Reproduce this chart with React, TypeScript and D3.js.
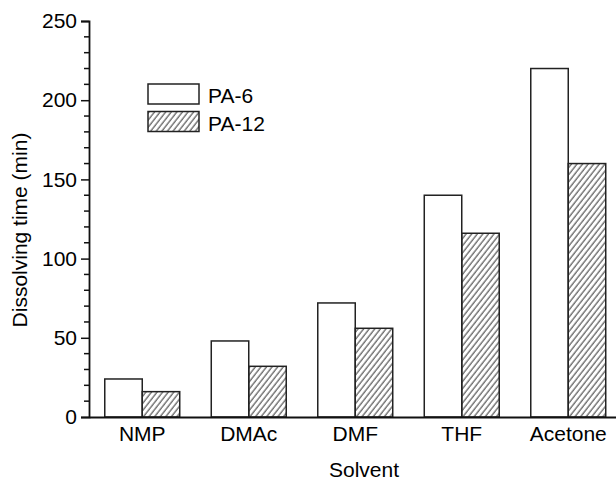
import { useRef, useEffect } from 'react';
import * as d3 from 'd3';

const solvents = ['NMP', 'DMAc', 'DMF', 'THF', 'Acetone'];
const seriesNames = ['PA-6', 'PA-12'];
const pa6 = [24, 48, 72, 140, 220];
const pa12 = [16, 32, 56, 116, 160];
const yTicks = [0, 50, 100, 150, 200, 250];

const App = () => {
  const svgRef = useRef<SVGSVGElement>(null);

  useEffect(() => {
    const width = 616;
    const height = 481;
    const font = 'Arial, "Liberation Sans", sans-serif';

    const svg = d3.select(svgRef.current);
    svg.selectAll('*').remove();
    svg.attr('viewBox', `0 0 ${width} ${height}`);

    // hatch fill for PA-12
    svg.append('defs')
      .append('pattern')
      .attr('id', 'hatch')
      .attr('patternUnits', 'userSpaceOnUse')
      .attr('width', 4.4)
      .attr('height', 10)
      .attr('patternTransform', 'rotate(38)')
      .append('line')
      .attr('x1', 1).attr('y1', 0)
      .attr('x2', 1).attr('y2', 10)
      .attr('stroke', '#333')
      .attr('stroke-width', 1);

    const x = d3.scaleBand()
      .domain(solvents)
      .range([89, 621.5])
      .paddingInner(0.296)
      .paddingOuter(0.148);

    const xs = d3.scaleBand()
      .domain(seriesNames)
      .range([0, x.bandwidth()]);

    const y = d3.scaleLinear()
      .domain([0, 250])
      .range([417, 21]);

    const data = solvents.map((s, i) => ({ solvent: s, values: [pa6[i], pa12[i]] }));

    const groups = svg.selectAll('.grp')
      .data(data)
      .enter()
      .append('g')
      .attr('transform', d => `translate(${x(d.solvent)},0)`);

    groups.selectAll('rect')
      .data(d => d.values.map((v, j) => ({ key: seriesNames[j], value: v })))
      .enter()
      .append('rect')
      .attr('x', d => xs(d.key)!)
      .attr('y', d => y(d.value))
      .attr('width', xs.bandwidth())
      .attr('height', d => y(0) - y(d.value))
      .attr('fill', d => d.key === 'PA-6' ? '#fff' : 'url(#hatch)')
      .attr('stroke', '#222')
      .attr('stroke-width', 1.5);

    // y axis
    const yAxis = svg.append('g')
      .attr('transform', 'translate(89,0)')
      .call(d3.axisLeft(y).tickValues(yTicks).tickSize(8).tickPadding(4));
    yAxis.select('.domain').attr('stroke', '#111').attr('stroke-width', 1.8);
    yAxis.selectAll('.tick line').attr('stroke', '#111').attr('stroke-width', 1.5);
    yAxis.selectAll('text')
      .attr('fill', '#000')
      .style('font-family', font)
      .style('font-size', '21px');

    const minor = d3.range(10, 250, 10).filter(v => v % 50 !== 0);
    svg.append('g')
      .selectAll('line')
      .data(minor)
      .enter()
      .append('line')
      .attr('x1', 84).attr('x2', 89)
      .attr('y1', d => y(d)).attr('y2', d => y(d))
      .attr('stroke', '#111')
      .attr('stroke-width', 1.5);

    // x axis
    const xAxis = svg.append('g')
      .attr('transform', `translate(0,${y(0)})`)
      .call(d3.axisBottom(x).tickSize(0).tickPadding(9));
    xAxis.select('.domain').attr('stroke', '#111').attr('stroke-width', 1.8);
    xAxis.selectAll('text')
      .attr('fill', '#000')
      .style('font-family', font)
      .style('font-size', '21px');

    svg.append('text')
      .attr('x', 364)
      .attr('y', 477)
      .attr('text-anchor', 'middle')
      .style('font-family', font)
      .style('font-size', '21px')
      .text('Solvent');

    svg.append('text')
      .attr('transform', 'translate(27,230) rotate(-90)')
      .attr('text-anchor', 'middle')
      .style('font-family', font)
      .style('font-size', '21px')
      .text('Dissolving time (min)');

    // legend
    const legend = svg.append('g').attr('transform', 'translate(148,84)');
    const rows = legend.selectAll('g')
      .data(seriesNames)
      .enter()
      .append('g')
      .attr('transform', (d, i) => `translate(0,${i * 27.5})`);
    rows.append('rect')
      .attr('width', 51)
      .attr('height', 20)
      .attr('fill', d => d === 'PA-6' ? '#fff' : 'url(#hatch)')
      .attr('stroke', '#222')
      .attr('stroke-width', 1.5);
    rows.append('text')
      .attr('x', 60)
      .attr('y', 19)
      .style('font-family', font)
      .style('font-size', '21px')
      .text(d => d);
  }, []);

  return (
    <svg
      ref={svgRef}
      width={616}
      height={481}
      style={{ position: 'absolute', left: 0, top: 0, background: '#fff' }}
    />
  );
};

export default App;
